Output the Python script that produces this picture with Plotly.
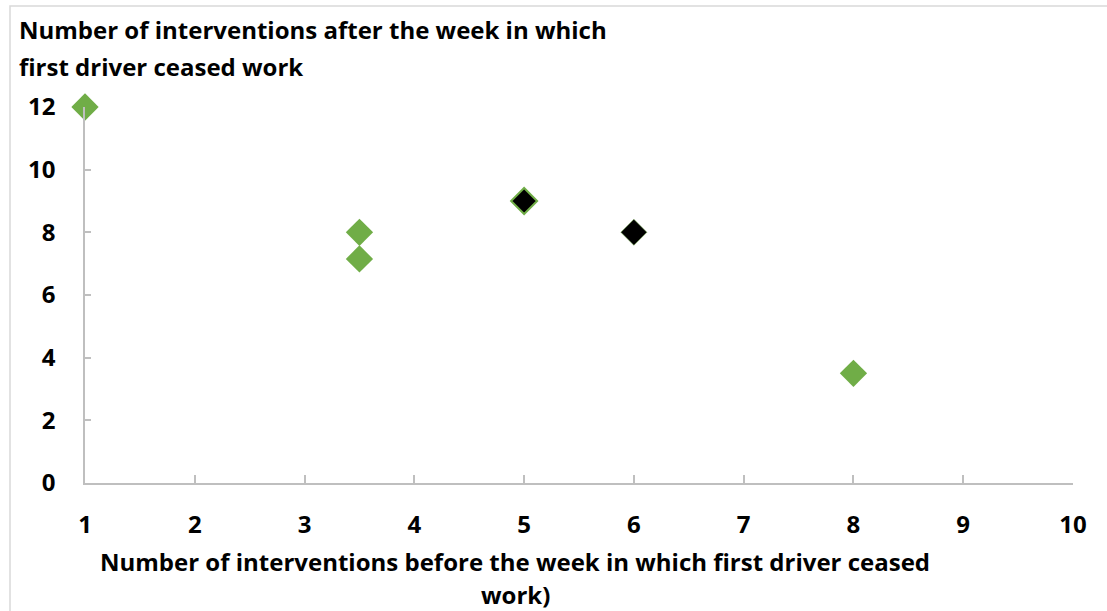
"""Scatter of interventions before vs after the week the first driver ceased work."""

import plotly.graph_objects as go

# green points
green_x = [1, 3.5, 3.5, 8]
green_y = [12, 8, 7.15, 3.5]

# black points
black_x = [5, 6]
black_y = [9, 8]

x_ticks = [1, 2, 3, 4, 5, 6, 7, 8, 9, 10]
y_ticks = [0, 2, 4, 6, 8, 10, 12]

y_title = ["Number of interventions after the week in which", "first driver ceased work"]
x_title = ["Number of interventions before the week in which first driver ceased", "work)"]

GREEN = "#70AD47"
AXIS = "#BFBFBF"
FONT = dict(family="Open Sans, Arial, sans-serif", size=24, color="black", weight="bold")

fig = go.Figure()
fig.add_trace(go.Scatter(
    x=green_x, y=green_y, mode="markers", cliponaxis=False,
    marker=dict(symbol="diamond", size=21, color=GREEN, line=dict(width=0)),
))
fig.add_trace(go.Scatter(
    x=black_x, y=black_y, mode="markers", cliponaxis=False,
    marker=dict(symbol="diamond", size=20, color="black", line=dict(color=GREEN, width=[2, 0.5])),
))

# plot area in pixels: x 85..1073, y 107..483
L, R, T, B = 85, 34, 107, 128
W, H = 1107 - L - R, 611 - T - B


def px_x(p):
    return (p - L) / W


def px_y(p):
    return (611 - B - p) / H


annotations = []
for i, line in enumerate(y_title):
    annotations.append(dict(
        text=line, x=px_x(17), y=px_y(29 + i * 38), xref="paper", yref="paper",
        xanchor="left", yanchor="middle", showarrow=False, font=FONT,
    ))
for i, line in enumerate(x_title):
    annotations.append(dict(
        text=line, x=px_x(515), y=px_y(561 + i * 33), xref="paper", yref="paper",
        xanchor="center", yanchor="middle", showarrow=False, font=FONT,
    ))

fig.update_layout(
    width=1107, height=611,
    margin=dict(l=L, r=R, t=T, b=B),
    paper_bgcolor="white", plot_bgcolor="white",
    showlegend=False,
    annotations=annotations,
    shapes=[dict(
        type="rect", xref="paper", yref="paper",
        x0=px_x(10), x1=px_x(1120), y0=px_y(640), y1=px_y(6),
        line=dict(color="#D9D9D9", width=1.5), layer="below",
    )],
)
fig.update_xaxes(
    range=[1, 10], tickvals=x_ticks, showgrid=False, zeroline=False,
    showline=True, linecolor=AXIS, linewidth=1.5,
    ticks="inside", ticklen=8, tickcolor=AXIS, tickwidth=1.5,
    tickfont=FONT, ticklabelstandoff=19,
)
fig.update_yaxes(
    range=[0, 12], tickvals=y_ticks, showgrid=False, zeroline=False,
    showline=True, linecolor=AXIS, linewidth=1.5,
    ticks="inside", ticklen=6, tickcolor=AXIS, tickwidth=1.5,
    tickfont=FONT, ticklabelstandoff=23,
)

# drop the browser's default body margin so the figure sits at the page corner
fig.write_html(
    "out.html",
    config={"displayModeBar": False},
    post_script="document.body.style.margin = '0';",
)
